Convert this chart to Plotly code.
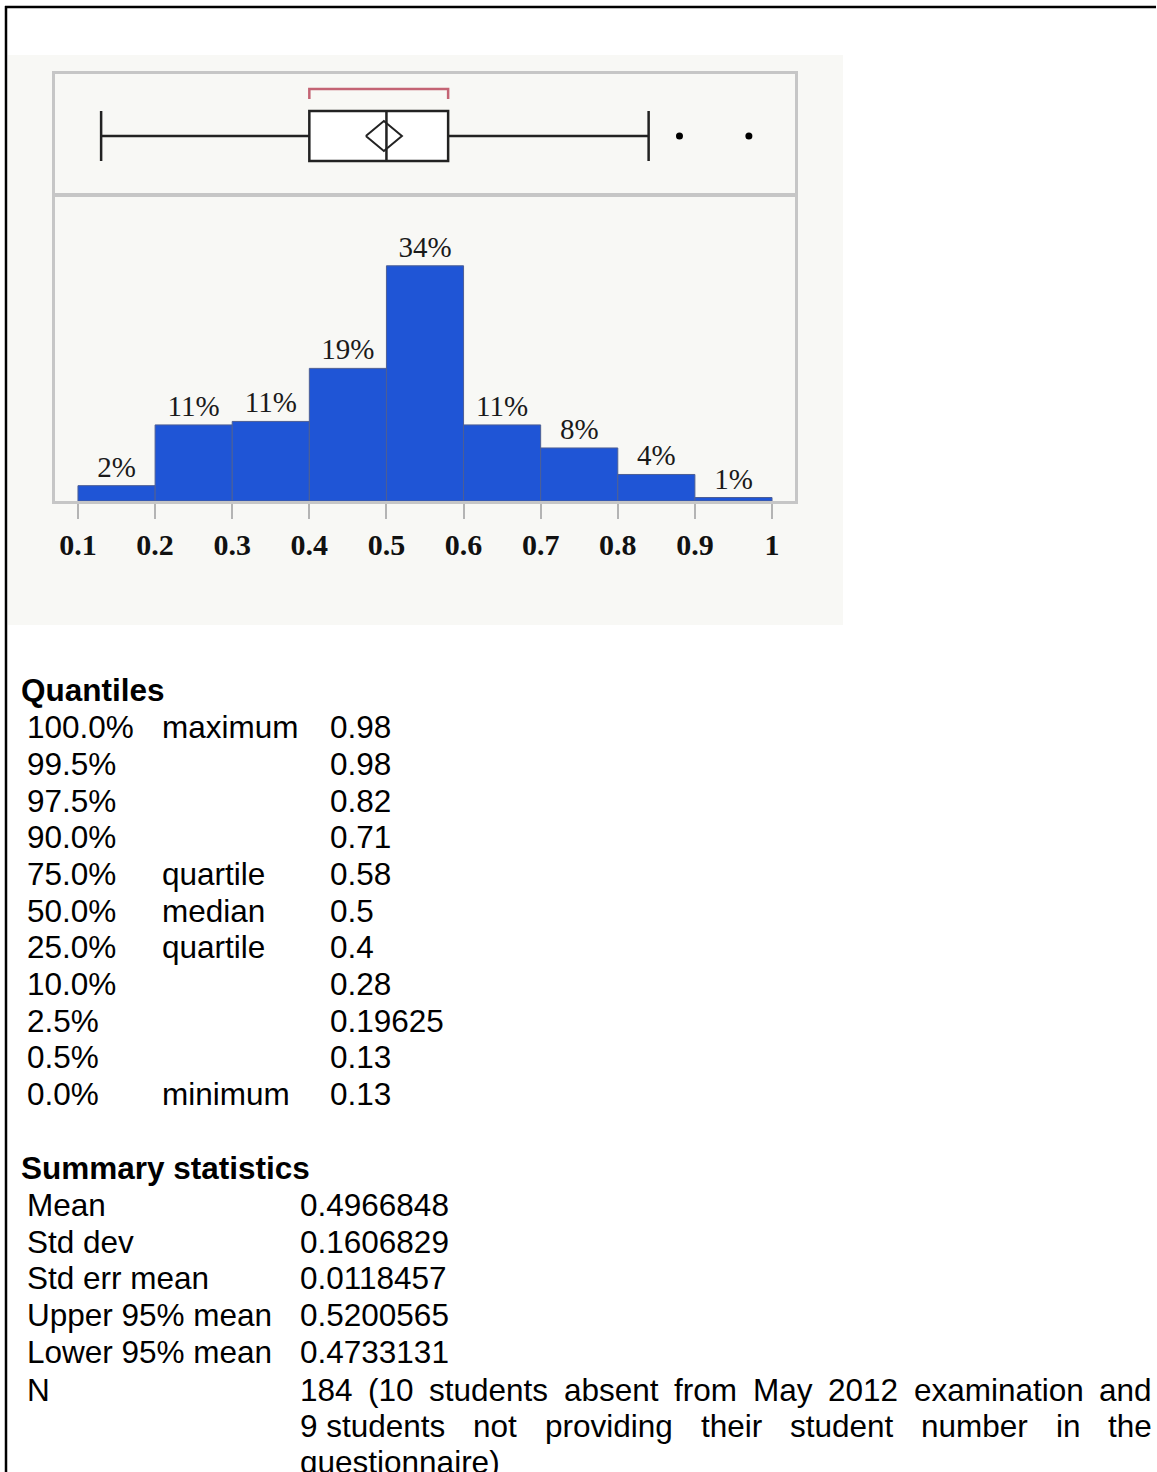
import plotly.graph_objects as go

# histogram: bins of width 0.1 from 0.1 to 1.0, bar heights in % of students
bin_left = [0.1, 0.2, 0.3, 0.4, 0.5, 0.6, 0.7, 0.8, 0.9]
bin_pct = [2.2, 10.9, 11.4, 19.0, 33.7, 10.9, 7.6, 3.8, 0.5]
bin_labels = ["2%", "11%", "11%", "19%", "34%", "11%", "8%", "4%", "1%"]
tick_vals = [0.1, 0.2, 0.3, 0.4, 0.5, 0.6, 0.7, 0.8, 0.9, 1.0]
tick_text = ["0.1", "0.2", "0.3", "0.4", "0.5", "0.6", "0.7", "0.8", "0.9", "1"]

# box plot
box_low = [0.13]
box_q1 = [0.4]
box_median = [0.5]
box_q3 = [0.58]
box_high = [0.84]
outliers = [0.88, 0.97]
mean_ci = [0.4733131, 0.4966848, 0.5200565]   # lower 95%, mean, upper 95%
shortest_half = [0.4, 0.58]

# tables
quant_pct = ["100.0%", "99.5%", "97.5%", "90.0%", "75.0%", "50.0%",
             "25.0%", "10.0%", "2.5%", "0.5%", "0.0%"]
quant_name = ["maximum", "", "", "", "quartile", "median",
              "quartile", "", "", "", "minimum"]
quant_val = ["0.98", "0.98", "0.82", "0.71", "0.58", "0.5",
             "0.4", "0.28", "0.19625", "0.13", "0.13"]
summ_label = ["Mean", "Std dev", "Std err mean", "Upper 95% mean", "Lower 95% mean", "N"]
summ_val = ["0.4966848", "0.1606829", "0.0118457", "0.5200565", "0.4733131"]
n_lines = [
    ["184", "(10", "students", "absent", "from", "May", "2012", "examination", "and"],
    ["9 students", "not", "providing", "their", "student", "number", "in", "the"],
    ["questionnaire)"],
]

W, H = 1157, 1472
SANS = "Liberation Sans, Arial, sans-serif"
SERIF = "Liberation Serif, Times New Roman, serif"
FS = 31.5


def px(x):
    return x / W


def py(y):
    return 1 - y / H


# Arial / Liberation Sans advance widths (per 1000 em)
ARIAL = {" ": 278, "(": 333, ")": 333, "%": 889, ".": 278, "M": 833, "N": 722}
for c in "0123456789abdeghnopqu":
    ARIAL[c] = 556
for c in "cksvxyz":
    ARIAL[c] = 500
ARIAL.update({"f": 278, "t": 278, "i": 222, "j": 222, "l": 222, "m": 833, "r": 333, "w": 722})


def text_w(s, size):
    return sum(ARIAL.get(c, 556) for c in s) * size / 1000


x_range = [0.0702, 1.0298]

fig = go.Figure()

# --- box plot panel ---
fig.add_trace(go.Box(
    y=[0], q1=box_q1, median=box_median, q3=box_q3,
    lowerfence=box_low, upperfence=box_high,
    orientation="h", width=2, whiskerwidth=1, boxpoints=False,
    fillcolor="white", line=dict(color="#222222", width=2.5),
    xaxis="x", yaxis="y", hoverinfo="skip", showlegend=False,
))
fig.add_trace(go.Scatter(
    x=outliers, y=[0] * len(outliers), mode="markers",
    marker=dict(color="black", size=7), xaxis="x", yaxis="y",
    hoverinfo="skip", showlegend=False,
))
fig.add_trace(go.Scatter(
    x=[mean_ci[0], mean_ci[1], mean_ci[2], mean_ci[1], mean_ci[0]],
    y=[0, 0.6, 0, -0.6, 0], mode="lines",
    line=dict(color="#222222", width=2), xaxis="x", yaxis="y",
    hoverinfo="skip", showlegend=False,
))
fig.add_trace(go.Scatter(
    x=[shortest_half[0], shortest_half[0], shortest_half[1], shortest_half[1]],
    y=[1.48, 1.88, 1.88, 1.48], mode="lines",
    line=dict(color="#c46474", width=2.5), xaxis="x", yaxis="y",
    hoverinfo="skip", showlegend=False,
))

# --- histogram panel ---
fig.add_trace(go.Bar(
    x=[b + 0.05 for b in bin_left], y=bin_pct, width=0.1,
    marker=dict(color="#1f55d6", line=dict(color="#4d5f95", width=1)),
    text=bin_labels, textposition="outside", cliponaxis=False,
    textfont=dict(family=SERIF, size=29, color="#1a1a1a"),
    xaxis="x2", yaxis="y2", hoverinfo="skip", showlegend=False,
))

frame = dict(showline=True, mirror=True, linecolor="#c6c6c6", linewidth=3,
             showgrid=False, zeroline=False, fixedrange=True)

annotations = []


def add_text(x, y, s, bold=False):
    annotations.append(dict(
        x=px(x), y=py(y), xref="paper", yref="paper", text=s,
        xanchor="left", yanchor="middle", showarrow=False,
        font=dict(family=SANS, size=FS, color="black", weight="bold" if bold else "normal"),
    ))


add_text(19, 690, "Quantiles", bold=True)
row_y = 727.3
for p, nm, v in zip(quant_pct, quant_name, quant_val):
    add_text(25, row_y, p)
    if nm:
        add_text(160, row_y, nm)
    add_text(328, row_y, v)
    row_y += 36.67

add_text(19, 1168, "Summary statistics", bold=True)
row_y = 1205
for lab, v in zip(summ_label, summ_val):
    add_text(25, row_y, lab)
    add_text(298, row_y, v)
    row_y += 36.7
add_text(25, 1390, summ_label[-1])

# justified N note
left, right = 298, 1150
for i, words in enumerate(n_lines):
    y = 1390 + i * 36
    if len(words) == 1:
        add_text(left, y, words[0])
        continue
    total = sum(text_w(w, FS) for w in words)
    gap = (right - left - total) / (len(words) - 1)
    x = left
    for w in words:
        add_text(x, y, w)
        x += text_w(w, FS) + gap

shapes = [
    dict(type="rect", xref="paper", yref="paper", x0=px(8), x1=px(843),
         y0=py(625), y1=py(55), fillcolor="#f8f8f5", line=dict(width=0), layer="below"),
    dict(type="line", xref="paper", yref="paper", x0=px(6), x1=px(6),
         y0=py(6), y1=0, line=dict(color="black", width=2.5)),
    dict(type="line", xref="paper", yref="paper", x0=px(5), x1=px(1156),
         y0=py(7), y1=py(7), line=dict(color="black", width=2.5)),
]

fig.update_layout(
    width=W, height=H,
    margin=dict(l=0, r=0, t=0, b=0),
    paper_bgcolor="white", plot_bgcolor="white",
    showlegend=False,
    xaxis=dict(domain=[px(55), px(795)], range=x_range, showticklabels=False,
               ticks="", anchor="y", **frame),
    yaxis=dict(domain=[py(194), py(74)], range=[-2.32, 2.48], showticklabels=False,
               ticks="", anchor="x", **frame),
    xaxis2=dict(domain=[px(55), px(795)], range=x_range, anchor="y2",
                tickvals=tick_vals, ticktext=tick_text, ticks="outside",
                ticklen=15, tickwidth=2, tickcolor="#b4b4b4",
                tickfont=dict(family=SERIF, size=30, color="#111111", weight="bold"),
                **frame),
    yaxis2=dict(domain=[py(501), py(196)], range=[0, 43.7], showticklabels=False,
                ticks="", anchor="x2", **frame),
    annotations=annotations,
    shapes=shapes,
    bargap=0,
)

fig.write_html(
    "out.html",
    config={"displayModeBar": False, "staticPlot": True},
    post_script="document.body.style.margin='0';document.body.style.overflow='hidden';",
)
